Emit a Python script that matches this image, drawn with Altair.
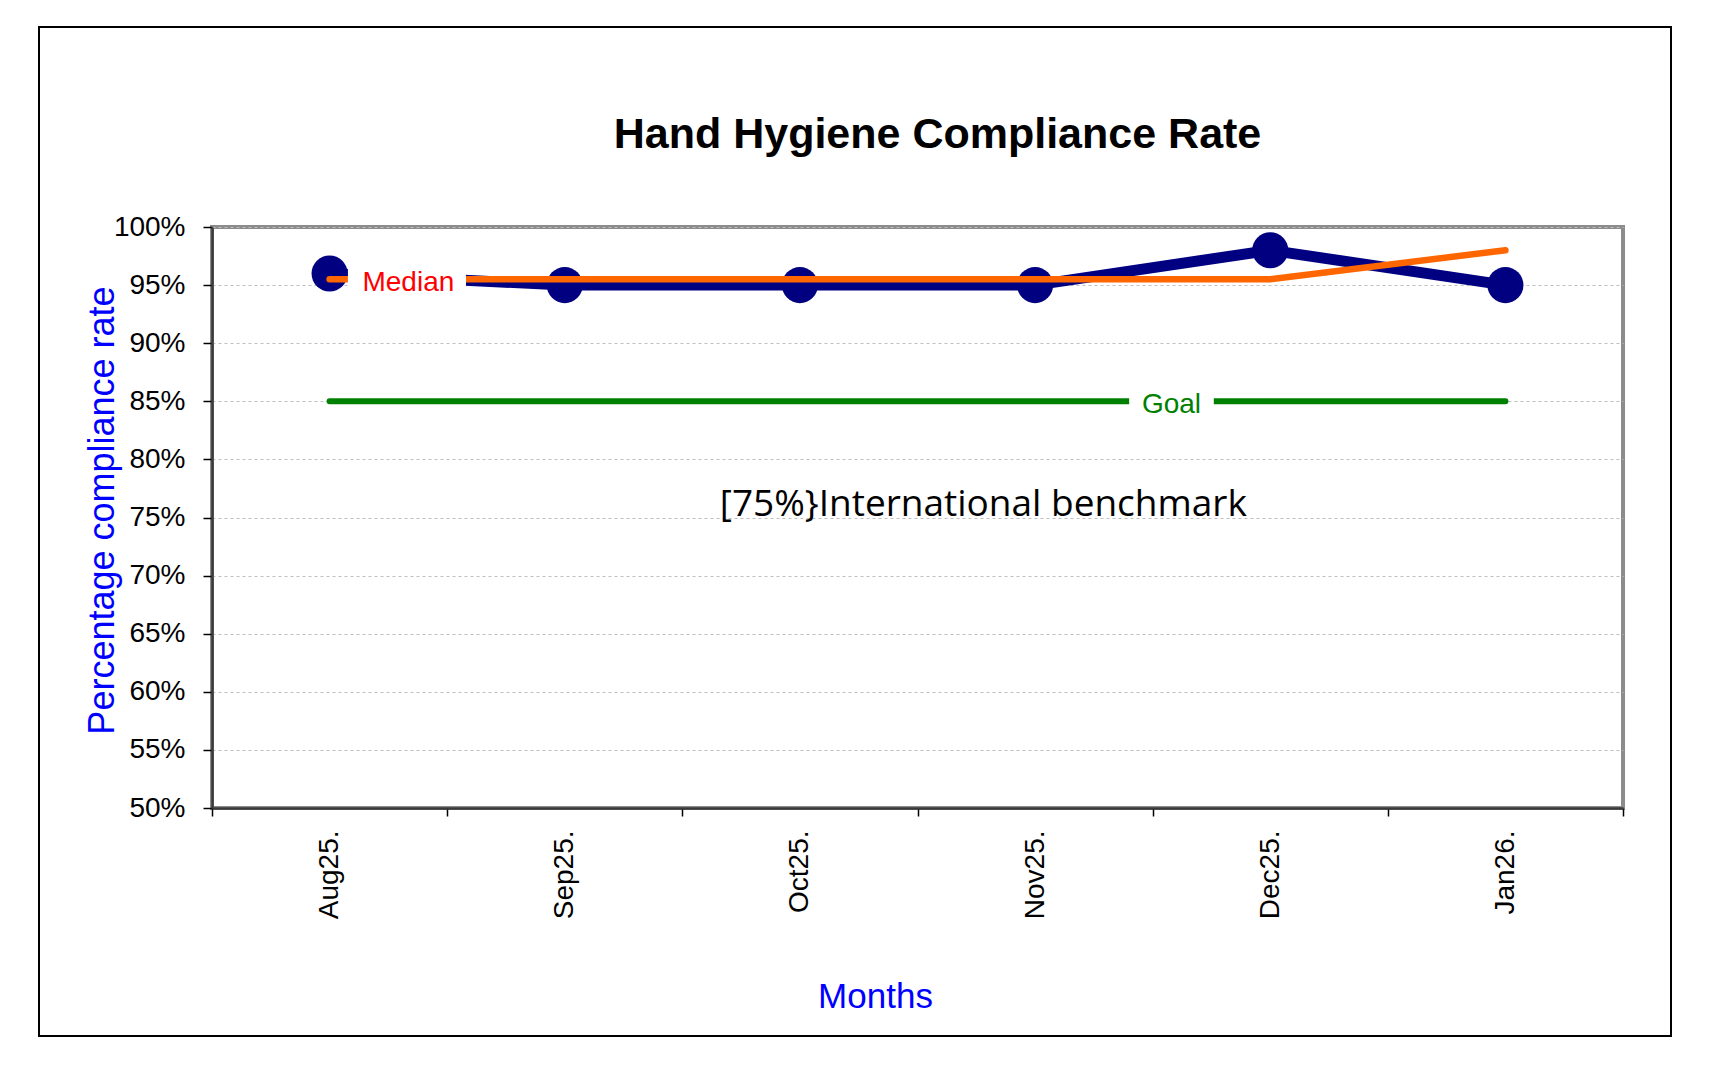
import json
import altair as alt
import pandas as pd

# ---- data ----
months = ["Aug25.", "Sep25.", "Oct25.", "Nov25.", "Dec25.", "Jan26."]
compliance = [0.96, 0.95, 0.95, 0.95, 0.98, 0.95]
median = [0.955, 0.955, 0.955, 0.955, 0.955, 0.98]
goal = [0.85, 0.85, 0.85, 0.85, 0.85, 0.85]
y_ticks = [0.50, 0.55, 0.60, 0.65, 0.70, 0.75, 0.80, 0.85, 0.90, 0.95, 1.00]
x_ticks = [-0.5, 0, 0.5, 1, 1.5, 2, 2.5, 3, 3.5, 4, 4.5, 5, 5.5]

# annotation labels (position in month index / rate units)
median_label = {"text": "Median", "x": 0.335, "y": 0.952, "x1": 0.078, "x2": 0.58, "y1": 0.972, "y2": 0.936}
goal_label = {"text": "Goal", "x": 3.58, "y": 0.847, "x1": 3.40, "x2": 3.76, "y1": 0.862, "y2": 0.836}
bench_label = {"text": "[75%}International benchmark", "x": 2.78, "y": 0.751}
title_text = "Hand Hygiene Compliance Rate"

W, H = 1411, 581
FONT = "Liberation Sans"

df = pd.DataFrame({
    "i": list(range(len(months))),
    "month": months,
    "compliance": compliance,
    "median": median,
    "goal": goal,
})

xscale = alt.Scale(domain=[-0.5, 5.5], nice=False, zero=False)
yscale = alt.Scale(domain=[0.5, 1.0], nice=False, zero=False)

label_expr = "datum.value % 1 === 0 ? " + json.dumps(months) + "[datum.value] : ''"

x_axis = alt.Axis(
    values=x_ticks, labelExpr=label_expr,
    tickOpacity={"condition": {"test": "datum.value % 1 !== 0", "value": 1}, "value": 0},
    tickSize=8, tickColor="#000000", tickWidth=1.5,
    labelAngle=270, labelPadding=14, labelFont=FONT, labelFontSize=28, labelColor="#000000",
    labelOverlap=False, labelFlush=False, grid=False,
    domainColor="#3a3a3a", domainWidth=2.5,
    title="Months", titleColor="#0000FF", titleFont=FONT, titleFontSize=35, titleFontWeight="normal",
    titleX=663, titleY=199, titleBaseline="alphabetic", titleAlign="center",
)
y_axis = alt.Axis(
    values=y_ticks, format=".0%",
    tickSize=9, tickColor="#000000", tickWidth=1.5,
    labelPadding=18, labelFont=FONT, labelFontSize=28, labelColor="#000000",
    labelOverlap=False, labelFlush=False,
    grid=True, gridColor="#bfbfbf", gridDash=[3, 3], gridWidth=1,
    domainColor="#3a3a3a", domainWidth=2.5,
    title="Percentage compliance rate", titleColor="#0000FF", titleFont=FONT, titleFontSize=36,
    titleFontWeight="normal", titleX=-110, titleY=283, titleBaseline="middle", titleAlign="center",
    titleAngle=270,
)


def X(field):
    return alt.X(field, scale=xscale, axis=x_axis, title="Months")


def Y(field):
    return alt.Y(field, scale=yscale, axis=y_axis, title="Percentage compliance rate")


base = alt.Chart(df)

main_line = base.mark_line(color="#000080", strokeWidth=11).encode(x=X("i:Q"), y=Y("compliance:Q"))
points = base.mark_circle(size=1300, color="#000080", opacity=1).encode(x=X("i:Q"), y=Y("compliance:Q"))
median_line = base.mark_line(color="#FF6600", strokeWidth=6.5, strokeCap="round").encode(
    x=X("i:Q"), y=Y("median:Q"))
goal_line = base.mark_line(color="#008000", strokeWidth=6, strokeCap="round").encode(
    x=X("i:Q"), y=Y("goal:Q"))


def label_box(d):
    return alt.Chart(pd.DataFrame([d])).mark_rect(fill="white").encode(
        x=X("x1:Q"), x2="x2:Q", y=Y("y1:Q"), y2="y2:Q",
    )


def label_text(d, color, size, font=FONT, baseline="middle"):
    return alt.Chart(pd.DataFrame([d])).mark_text(
        color=color, fontSize=size, font=font, align="center", baseline=baseline
    ).encode(x=X("x:Q"), y=Y("y:Q"), text="text:N")


one = pd.DataFrame({"k": [0]})
frame = alt.Chart(one).mark_rect(fillOpacity=0, stroke="#000000", strokeWidth=2).encode(
    x=alt.value(-173), x2=alt.value(1459), y=alt.value(-200), y2=alt.value(809)
)
title = alt.Chart(pd.DataFrame({"t": [title_text]})).mark_text(
    font=FONT, fontSize=43, fontWeight="bold", color="#000000", align="center", baseline="alphabetic"
).encode(x=alt.value(W / 2 + 20), y=alt.value(-79), text="t:N")

chart = alt.layer(
    main_line,
    goal_line,
    label_box(goal_label),
    label_text(goal_label, "#008000", 28),
    points,
    median_line,
    label_box(median_label),
    label_text(median_label, "#FF0000", 28),
    label_text(bench_label, "#000000", 37, font="Open Sans", baseline="alphabetic"),
    title,
    frame,
).properties(
    width=W, height=H,
    background="white",
    padding={"left": 204, "top": 219, "right": 86, "bottom": 270},
    autosize=alt.AutoSizeParams(type="none"),
).configure_view(
    stroke="#8c8c8c", strokeWidth=4
)

chart.save("out.html", embed_options={"renderer": "svg", "actions": False})
